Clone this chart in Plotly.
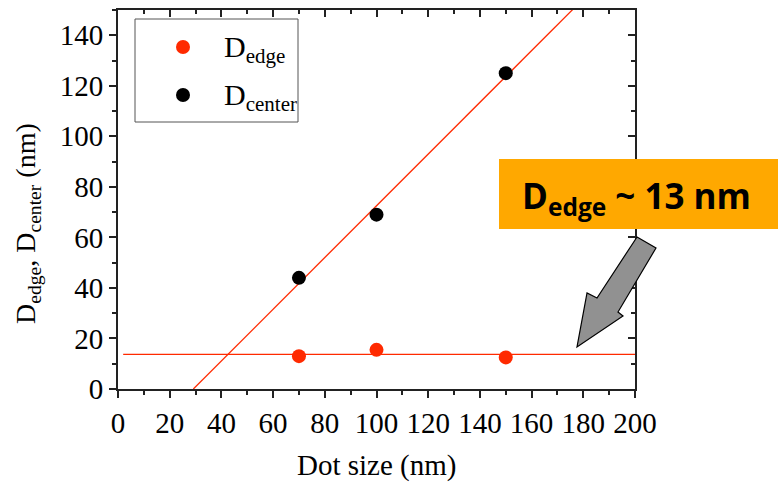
import numpy as np
import plotly.graph_objects as go

dot_size = [70, 100, 150]
d_edge = [13, 15.5, 12.5]
d_center = [44, 69, 125]
x_ticks = list(range(0, 201, 20))
y_ticks = list(range(0, 141, 20))
legend_labels = ["D<sub>edge</sub>", "D<sub>center</sub>"]

RED = "#ff2a00"
AX = "#222222"
serif = "Liberation Serif"

# linear fit of center and mean of edge
slope, intercept = np.polyfit(dot_size, d_center, 1)
fit_x = [-intercept / slope, 200]
fit_y = [slope * v + intercept for v in fit_x]
edge_mean = float(np.mean(d_edge))

fig = go.Figure()
fig.add_trace(go.Scatter(x=fit_x, y=fit_y, mode="lines", line=dict(color=RED, width=1.3),
                         showlegend=False, hoverinfo="skip"))
fig.add_trace(go.Scatter(x=[2, 200], y=[edge_mean, edge_mean], mode="lines",
                         line=dict(color=RED, width=1.3), showlegend=False, hoverinfo="skip"))
fig.add_trace(go.Scatter(x=dot_size, y=d_edge, mode="markers", name=legend_labels[0],
                         marker=dict(color=RED, size=14), showlegend=False))
fig.add_trace(go.Scatter(x=dot_size, y=d_center, mode="markers", name=legend_labels[1],
                         marker=dict(color="black", size=14), showlegend=False))
# invisible trace for mirror axes
fig.add_trace(go.Scatter(x=[0], y=[0], xaxis="x2", yaxis="y2", mode="markers",
                         marker=dict(opacity=0), showlegend=False, hoverinfo="skip"))

tickfont = dict(family=serif, size=29, color="black")
common = dict(showgrid=False, zeroline=False, linecolor=AX, linewidth=2, tickcolor=AX,
              tickwidth=1.5, ticklen=7, ticks="outside", tickfont=tickfont, automargin=False,
              minor=dict(ticks="outside", ticklen=4, tickcolor=AX, tickwidth=1.5, dtick=10))
mirror_ax = dict(ticks="inside", ticklen=7, tickwidth=1.5, tickcolor=AX, showticklabels=False,
                 showgrid=False, zeroline=False, showline=False, automargin=False,
                 minor=dict(ticks="inside", ticklen=4, tickcolor=AX, tickwidth=1.5, dtick=10))

fig.update_layout(
    width=778, height=482,
    margin=dict(l=118, r=143, t=10, b=93, autoexpand=False),
    plot_bgcolor="white", paper_bgcolor="white",
    xaxis=dict(range=[0, 200], tickvals=x_ticks, mirror=True, **common),
    yaxis=dict(range=[0, 150], tickvals=y_ticks, mirror=True, **common),
    xaxis2=dict(overlaying="x", side="top", range=[0, 200], tickvals=x_ticks, **mirror_ax),
    yaxis2=dict(overlaying="y", side="right", range=[0, 150], tickvals=y_ticks, **mirror_ax),
    showlegend=False,
)

W, H = 517.0, 379.0
def px(x):
    return (x - 118) / W
def py(y):
    return (389 - y) / H

# axis titles
fig.add_annotation(xref="paper", yref="paper", x=0.5, y=py(465), xanchor="center",
                   yanchor="middle", showarrow=False, text="Dot size (nm)",
                   font=dict(family=serif, size=29, color="black"))
fig.add_annotation(xref="paper", yref="paper", x=px(27), y=py(224), xanchor="center",
                   yanchor="middle", showarrow=False, textangle=-90,
                   text="D<sub>edge</sub>, D<sub>center</sub> (nm)",
                   font=dict(family=serif, size=28, color="black"))

# legend (drawn manually)
fig.add_shape(type="rect", xref="paper", yref="paper", x0=px(135), x1=px(298),
              y0=py(122), y1=py(19), line=dict(color="#555555", width=1), fillcolor="white",
              layer="above")
for label, color, yc in zip(legend_labels, [RED, "black"], [47, 95]):
    fig.add_shape(type="circle", xref="paper", yref="paper", xsizemode="pixel",
                  ysizemode="pixel", xanchor=px(183), yanchor=py(yc), x0=-7, x1=7, y0=-7, y1=7,
                  fillcolor=color, line=dict(width=0), layer="above")
    fig.add_annotation(xref="paper", yref="paper", x=px(222), y=py(yc - 19), xanchor="left",
                       yanchor="top", showarrow=False, text=label,
                       font=dict(family=serif, size=30, color="black"))

# orange callout box
fig.add_shape(type="rect", xref="paper", yref="paper", x0=px(499), x1=px(778),
              y0=py(229), y1=py(159), fillcolor="#ffa800", line=dict(width=0), layer="above")
fig.add_annotation(xref="paper", yref="paper", x=px(636), y=py(197), xanchor="center",
                   yanchor="middle", showarrow=False,
                   text="<b>D<sub>edge</sub> ~ 13 nm</b>",
                   font=dict(family="Open Sans", size=35, color="black"))

arrow = [(637, 237), (656, 248), (618, 312), (623, 316), (577, 347), (587, 293), (597, 298)]
path = "M " + " L ".join(f"{px(a):.4f},{py(b):.4f}" for a, b in arrow) + " Z"
fig.add_shape(type="path", xref="paper", yref="paper", path=path, fillcolor="#919191",
              line=dict(color="black", width=1.2), layer="above")

fig.write_html("out.html", config={"displayModeBar": False},
               post_script="document.body.style.margin='0';")
